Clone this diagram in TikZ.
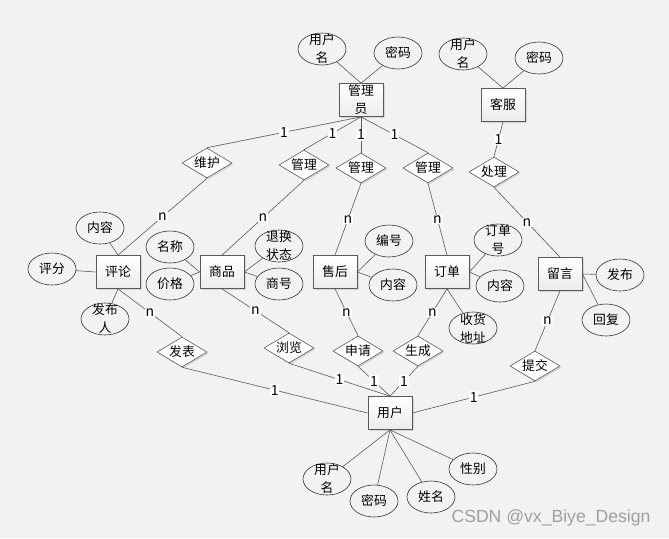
\documentclass[tikz,border=0pt]{standalone}
\usepackage{fontspec}
\newfontfamily\cjk{Noto Sans CJK SC}
\newfontfamily\wmfont{Liberation Sans}
\usetikzlibrary{shapes.geometric,shadows}
\definecolor{bg}{HTML}{F2F2F2}
\definecolor{ln}{HTML}{5A5A5A}
\begin{document}
\begin{tikzpicture}[x=1pt,y=-1pt,
 every node/.style={font=\cjk\fontsize{12.8}{18}\selectfont},
 shd/.style={drop shadow={opacity=0.25, shadow xshift=1.5pt, shadow yshift=-1.5pt, fill=gray}},
 ent/.style={rectangle, draw=ln, line width=0.8pt, top color=white, bottom color=gray!15, minimum width=44, minimum height=33, inner sep=0, align=center, shd},
 rel/.style={diamond, draw=ln, line width=0.6pt, fill=white, aspect=1.67, minimum width=50, minimum height=30, inner sep=0, shd},
 attr/.style={ellipse, draw=black!80, line width=0.6pt, minimum width=48, minimum height=32, inner sep=0},
 ml/.style={align=center, inner sep=0, font=\cjk\fontsize{12.8}{18}\selectfont},
 lk/.style={draw=ln, line width=0.6pt},
 card/.style={fill=white, inner sep=0.8pt, font=\cjk\fontsize{14}{14}\selectfont},
]
\fill[bg] (0,0) rectangle (669,538);
\useasboundingbox (0,0) rectangle (669,538);

% entities
\node[ent] (adm) at (361,100) {管理\\员};
\node[ent] (kf) at (503,105) {客服};
\node[ent] (pl) at (118,272) {评论};
\node[ent] (sp) at (222,272) {商品};
\node[ent] (sh) at (335,272) {售后};
\node[ent] (dd) at (447,272) {订单};
\node[ent] (ly) at (560,274) {留言};
\node[ent] (yh) at (390,413) {用户};

% relations
\node[rel] (wh) at (207,163) {维护};
\node[rel] (gl1) at (304,165) {管理};
\node[rel] (gl2) at (361,168) {管理};
\node[rel] (gl3) at (428,168) {管理};
\node[rel] (cl) at (494,172) {处理};
\node[rel] (fb) at (182,352) {发表};
\node[rel] (ll) at (289,348) {浏览};
\node[rel] (sq) at (358,351) {申请};
\node[rel] (sc) at (418,351) {生成};
\node[rel] (tj) at (535,366) {提交};

% attributes
\node[attr, label={[ml]center:用户\\名}] (a1) at (322,49) {};
\node[attr] (a2) at (398,53) {密码};
\node[attr, label={[ml]center:用户\\名}] (k1) at (463,54) {};
\node[attr] (k2) at (539,58) {密码};
\node[attr] (p1) at (100,228) {内容};
\node[attr] (p2) at (52,269) {评分};
\node[attr, label={[ml]center:发布\\人}] (p3) at (105,319) {};
\node[attr] (s1) at (170,247) {名称};
\node[attr] (s2) at (170,284) {价格};
\node[attr, label={[ml]center:退换\\状态}] (s3) at (279,246) {};
\node[attr] (s4) at (279,284) {商号};
\node[attr] (h1) at (389,241) {编号};
\node[attr] (h2) at (393,285) {内容};
\node[attr, label={[ml]center:订单\\号}] (d1) at (498,240) {};
\node[attr] (d2) at (500,286) {内容};
\node[attr, label={[ml]center:收货\\地址}] (d3) at (473,328) {};
\node[attr] (l1) at (620,275) {发布};
\node[attr] (l2) at (606,320) {回复};
\node[attr, label={[ml]center:用户\\名}] (u1) at (327,479) {};
\node[attr] (u2) at (374,501) {密码};
\node[attr] (u3) at (431,497) {姓名};
\node[attr] (u4) at (473,469) {性别};

% attribute links
\draw[lk] (a1) -- (adm.north);
\draw[lk] (a2) -- (adm.north);
\draw[lk] (k1) -- (kf.north);
\draw[lk] (k2) -- (kf.north);
\draw[lk] (p1) -- (pl.north);
\draw[lk] (p2) -- (pl.west);
\draw[lk] (p3) -- (pl.south);
\draw[lk] (s1) -- (sp.west);
\draw[lk] (s2) -- (sp.west);
\draw[lk] (s3) -- (sp.east);
\draw[lk] (s4) -- (sp.east);
\draw[lk] (h1) -- (sh.east);
\draw[lk] (h2) -- (sh.east);
\draw[lk] (d1) -- (dd.east);
\draw[lk] (d2) -- (dd.east);
\draw[lk] (d3) -- (dd.south);
\draw[lk] (l1) -- (ly.east);
\draw[lk] (l2) -- (ly.east);
\draw[lk] (u1) -- (yh.south);
\draw[lk] (u2) -- (yh.south);
\draw[lk] (u3) -- (yh.south);
\draw[lk] (u4) -- (yh.south);

% relationship links
\draw[lk] (adm.south) -- node[card]{1} (wh.north);
\draw[lk] (adm.south) -- node[card]{1} (gl1.north);
\draw[lk] (adm.south) -- node[card]{1} (gl2.north);
\draw[lk] (adm.south) -- node[card]{1} (gl3.north);
\draw[lk] (kf.south) -- node[card]{1} (cl.north);
\draw[lk] (wh.south) -- node[card]{n} (pl.north);
\draw[lk] (gl1.south) -- node[card]{n} (sp.north);
\draw[lk] (gl2.south) -- node[card]{n} (sh.north);
\draw[lk] (gl3.south) -- node[card]{n} (dd.north);
\draw[lk] (cl.south) -- node[card]{n} (ly.north);
\draw[lk] (pl.south) -- node[card]{n} (fb.north);
\draw[lk] (sp.south) -- node[card]{n} (ll.north);
\draw[lk] (sh.south) -- node[card]{n} (sq.north);
\draw[lk] (dd.south) -- node[card]{n} (sc.north);
\draw[lk] (ly.south) -- node[card]{n} (tj.north);
\draw[lk] (fb.south) -- node[card]{1} (yh.west);
\draw[lk] (ll.south) -- node[card]{1} (yh.north);
\draw[lk] (sq.south) -- node[card]{1} (yh.north);
\draw[lk] (sc.south) -- node[card]{1} (yh.north);
\draw[lk] (tj.south) -- node[card]{1} (yh.east);

% watermark
\node[font=\wmfont\fontsize{17.6}{17.6}\selectfont, text=gray!75] (wmk) at (551,518) {CSDN @vx\_Biye\_Design};
\end{tikzpicture}
\end{document}
